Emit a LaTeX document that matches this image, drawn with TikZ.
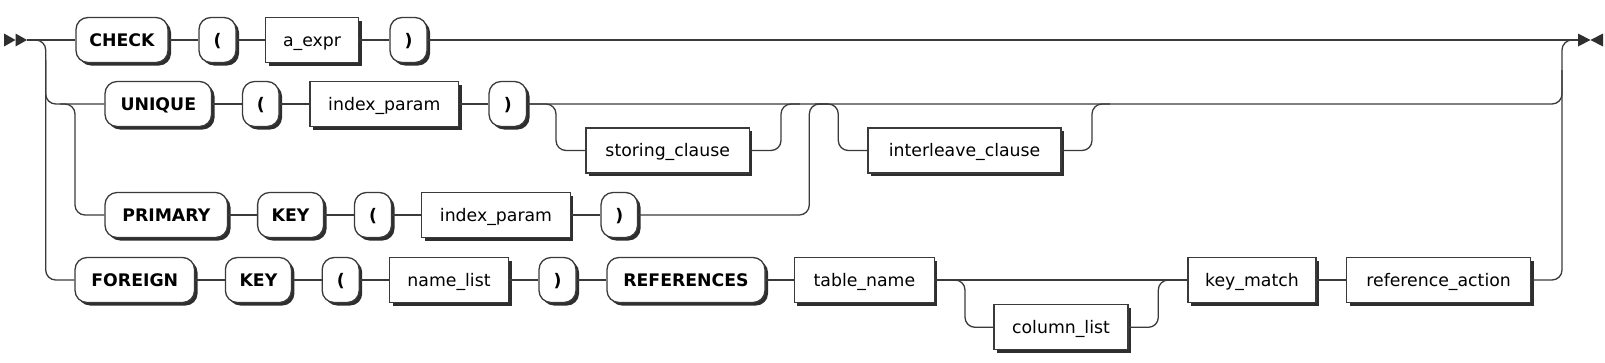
\documentclass[tikz,border=0pt]{standalone}
\usepackage{fontspec}
\setmainfont{DejaVu Sans}
\usetikzlibrary{shadows}
\definecolor{ln}{HTML}{3A3A3A}
\definecolor{shd}{HTML}{2E2E2E}
\tikzset{
  base/.style={draw=ln, line width=1.3pt, fill=white, minimum height=45pt, inner sep=0pt,
    text height=12.6pt, text depth=0pt,
    font=\fontsize{17.3}{20}\selectfont, text=black,
    drop shadow={opacity=1, fill=shd, shadow xshift=3pt, shadow yshift=-3pt}},
  term/.style={base, rounded corners=12pt, font=\fontsize{17.3}{20}\selectfont\bfseries},
  nonterm/.style={base},
  conn/.style={draw=ln, line width=1.3pt, rounded corners=10pt},
  tip/.style={fill=shd},
}
\begin{document}
\begin{tikzpicture}[x=1pt,y=-1pt]
\useasboundingbox (0,0) rectangle (1605,362);
% row 1
\node[term, minimum width=92pt] (check) at (122,40) {CHECK};
\node[term, minimum width=37pt] (lp1) at (217.5,40) {(};
\node[nonterm, minimum width=93pt] (aexpr) at (312,40) {a\_expr};
\node[term, minimum width=37pt] (rp1) at (408.5,40) {)};
% row 2
\node[term, minimum width=106.5pt] (unique) at (158.3,104) {UNIQUE};
\node[term, minimum width=36.5pt] (lp2) at (260.8,104) {(};
\node[nonterm, minimum width=148.5pt] (ipa) at (384.3,104) {index\_param};
\node[term, minimum width=37.5pt] (rp2) at (507.8,104) {)};
\node[nonterm, minimum width=163.5pt] (storing) at (667.7,150.5) {storing\_clause};
\node[nonterm, minimum width=193pt] (interleave) at (964.6,150.5) {interleave\_clause};
% row 3
\node[term, minimum width=122.5pt] (primary) at (166.3,215) {PRIMARY};
\node[term, minimum width=66pt] (keya) at (290.6,215) {KEY};
\node[term, minimum width=37pt] (lp3) at (373,215) {(};
\node[nonterm, minimum width=148.5pt] (ipb) at (496,215) {index\_param};
\node[term, minimum width=36.5pt] (rp3) at (619.3,215) {)};
% row 4
\node[term, minimum width=119.5pt] (foreign) at (134.8,280) {FOREIGN};
\node[term, minimum width=66pt] (keyb) at (258.4,280) {KEY};
\node[term, minimum width=37pt] (lp4) at (340.7,280) {(};
\node[nonterm, minimum width=119pt] (namelist) at (449,280) {name\_list};
\node[term, minimum width=37pt] (rp4) at (557.5,280) {)};
\node[term, minimum width=158pt] (refs) at (686,280) {REFERENCES};
\node[nonterm, minimum width=140pt] (tablename) at (864.4,280) {table\_name};
\node[nonterm, minimum width=134pt] (columnlist) at (1061,327.3) {column\_list};
\node[nonterm, minimum width=128pt] (keymatch) at (1252,280) {key\_match};
\node[nonterm, minimum width=184pt] (refaction) at (1438.6,280) {reference\_action};
% coordinates
\coordinate (start) at (27,40);
\coordinate (fin) at (1578,40);
\coordinate (L1) at (45.7,280);
\coordinate (L1a) at (45.7,60);
\coordinate (J2) at (60,104);
\coordinate (L2) at (75,215);
\coordinate (R2) at (1562,70);
\coordinate (Rt) at (1562,40);
\coordinate (S1) at (556,150.5);
\coordinate (S2) at (781,104);
\coordinate (S3) at (800,104);
\coordinate (P1) at (809.3,104);
\coordinate (P2) at (828,104);
\coordinate (I0) at (815,104);
\coordinate (I1) at (838.3,150.5);
\coordinate (I2) at (1092,104);
\coordinate (I3) at (1110,104);
\coordinate (C1) at (965,327.3);
\coordinate (C2) at (1158.3,280);
% start / end markers
\fill[tip] (4,33.5) -- (15.5,40) -- (4,46.5) -- cycle;
\fill[tip] (15.5,33.5) -- (27,40) -- (15.5,46.5) -- cycle;
\fill[tip] (1578,33.5) -- (1590.5,40) -- (1578,46.5) -- cycle;
\fill[tip] (1603,33.5) -- (1590.5,40) -- (1603,46.5) -- cycle;
% row 1
\draw[conn] (start) -- (check.west);
\draw[conn] (check.east) -- (lp1.west);
\draw[conn] (lp1.east) -- (aexpr.west);
\draw[conn] (aexpr.east) -- (rp1.west);
\draw[conn] (rp1.east) -- (fin);
% left rails
\draw[conn] (start) -| (L1) -- (foreign.west);
\draw[conn] (L1a) |- (unique.west);
\draw[conn] (J2) -| (L2) -- (primary.west);
% row 2
\draw[conn] (unique.east) -- (lp2.west);
\draw[conn] (lp2.east) -- (ipa.west);
\draw[conn] (ipa.east) -- (rp2.west);
\draw[conn] (rp2.east) -| (R2);
\draw[conn] (rp2.east) -| (S1) -- (storing.west);
\draw[conn] (storing.east) -| (S2) -- (S3);
\draw[conn] (I0) -| (I1) -- (interleave.west);
\draw[conn] (interleave.east) -| (I2) -- (I3);
% row 3
\draw[conn] (primary.east) -- (keya.west);
\draw[conn] (keya.east) -- (lp3.west);
\draw[conn] (lp3.east) -- (ipb.west);
\draw[conn] (ipb.east) -- (rp3.west);
\draw[conn] (rp3.east) -| (P1) -- (P2);
% row 4
\draw[conn] (foreign.east) -- (keyb.west);
\draw[conn] (keyb.east) -- (lp4.west);
\draw[conn] (lp4.east) -- (namelist.west);
\draw[conn] (namelist.east) -- (rp4.west);
\draw[conn] (rp4.east) -- (refs.west);
\draw[conn] (refs.east) -- (tablename.west);
\draw[conn] (tablename.east) -- (keymatch.west);
\draw[conn] (tablename.east) -| (C1) -- (columnlist.west);
\draw[conn] (columnlist.east) -| (C2) -- (keymatch.west);
\draw[conn] (keymatch.east) -- (refaction.west);
\draw[conn] (refaction.east) -| (Rt) -- (fin);
\end{tikzpicture}
\end{document}
